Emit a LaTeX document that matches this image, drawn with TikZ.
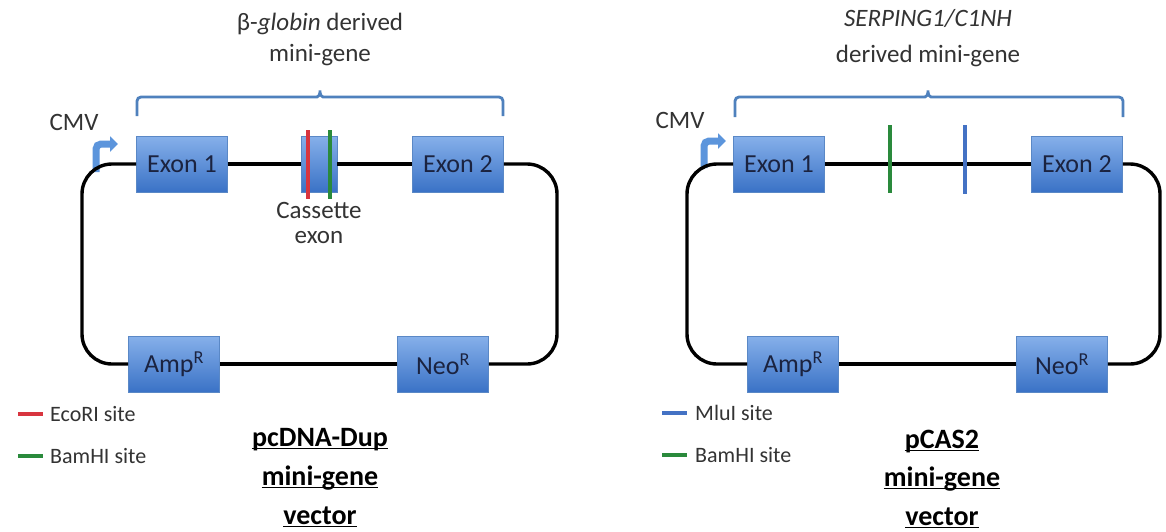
\documentclass[tikz,border=0pt]{standalone}
\usepackage{fontspec}
\setmainfont{Carlito}
\usetikzlibrary{arrows.meta}
\definecolor{boxtop}{HTML}{86B0EA}
\definecolor{boxbot}{HTML}{3A72C6}
\definecolor{boxedge}{HTML}{5A88C6}
\definecolor{boxtxt}{HTML}{1B2340}
\definecolor{brk}{HTML}{4F81BD}
\definecolor{cmvblue}{HTML}{5C95DC}
\definecolor{ecored}{HTML}{D8353F}
\definecolor{bamgreen}{HTML}{2A8A3C}
\definecolor{mlublue}{HTML}{4472C4}
\definecolor{txtgray}{HTML}{333333}
\begin{document}
\begin{tikzpicture}[x=1pt,y=-1pt,
  gene/.style={draw=boxedge, line width=0.9pt, top color=boxtop, bottom color=boxbot, inner sep=0pt, minimum width=91pt, minimum height=56pt, text=boxtxt, font=\fontsize{26}{30}\selectfont},
  backbone/.style={line width=3.4pt, black, rounded corners=30pt},
  bracket/.style={draw=brk, line width=2.8pt, rounded corners=4pt},
  cmvarrow/.style={draw=cmvblue, line width=7pt, rounded corners=5pt, -{Triangle[length=8pt,width=15pt]}},
  site/.style={line width=3.2pt},
  lbl/.style={text=txtgray, inner sep=0pt, font=\fontsize{25}{30}\selectfont},
  legtxt/.style={text=txtgray, inner sep=0pt, anchor=base west, font=\fontsize{22}{26}\selectfont},
  ttl/.style={inner sep=0pt, anchor=base, font=\fontsize{28}{32}\selectfont\bfseries},
  uline/.style={line width=1.6pt},
]
\useasboundingbox[fill=white] (0,0) rectangle (1166,531);

% ---------------- left panel ----------------
\node[gene] (e1) at (182,164) {Exon 1};
\node[gene, minimum width=36pt] (cas) at (319,164) {};
\node[gene] (e2) at (458,164) {Exon 2};
\node[gene] (amp) at (174,364) {Amp\textsuperscript{R}};
\node[gene] (neo) at (443,364) {Neo\textsuperscript{R}};

\coordinate (lcmv0) at (96,172);
\coordinate (lcmv1) at (96,144);
\coordinate (lcmv2) at (118,144);
\draw[cmvarrow] (lcmv0) -- (lcmv1) -- (lcmv2);
\node[lbl] (lcmv) at (74,122) {CMV};

\coordinate (ltl) at (82,164);
\coordinate (ltr) at (557,164);
\draw[backbone] (amp.west) -| (ltl) -- (e1.west);
\draw[backbone] (e1.east) -- (cas.west);
\draw[backbone] (cas.east) -- (e2.west);
\draw[backbone] (e2.east) -- (ltr) |- (neo.east);
\draw[backbone] (neo.west) -- (amp.east);

\coordinate (ecoT) at (308,130); \coordinate (ecoB) at (308,199);
\coordinate (bamT) at (330,130); \coordinate (bamB) at (330,199);
\draw[site, ecored] (ecoT) -- (ecoB);
\draw[site, bamgreen] (bamT) -- (bamB);
\node[lbl, anchor=base] (cast) at (319,218) {Cassette};
\node[lbl, anchor=base] (casx) at (319,243) {exon};

\coordinate (lb1) at (137,116);
\coordinate (lb2) at (503,116);
\draw[bracket] (lb1) -- (137,97) -- (313,97) .. controls (319,97) and (320,94) .. (320,88)
  .. controls (320,94) and (321,97) .. (327,97) -- (503,97) -- (lb2);
\node[lbl, anchor=base] (lh1) at (320,30) {β-\textit{globin} derived};
\node[lbl, anchor=base] (lh2) at (320,61) {mini-gene};

\coordinate (lr1) at (18,414); \coordinate (lr2) at (43,414);
\coordinate (lg1) at (18,456); \coordinate (lg2) at (43,456);
\draw[site, ecored] (lr1) -- (lr2);
\draw[site, bamgreen] (lg1) -- (lg2);
\node[legtxt] (leco) at (50,421) {EcoRI site};
\node[legtxt] (lbam) at (50,463) {BamHI site};

\node[ttl] (lt1) at (320,446) {pcDNA-Dup};
\node[ttl] (lt2) at (320,485) {mini-gene};
\node[ttl] (lt3) at (320,524) {vector};
\foreach \n in {lt1,lt2,lt3}
  \draw[uline] ([yshift=-2.5pt]\n.base west) -- ([yshift=-2.5pt]\n.base east);

% ---------------- right panel ----------------
\node[gene] (r1) at (779,164) {Exon 1};
\node[gene] (r2) at (1077,164) {Exon 2};
\node[gene] (ramp) at (793,364) {Amp\textsuperscript{R}};
\node[gene] (rneo) at (1062,364) {Neo\textsuperscript{R}};

\coordinate (rcmv0) at (704,168);
\coordinate (rcmv1) at (704,141);
\coordinate (rcmv2) at (726,141);
\draw[cmvarrow] (rcmv0) -- (rcmv1) -- (rcmv2);
\node[lbl] (rcmv) at (680,120) {CMV};

\coordinate (rtl) at (687,164);
\coordinate (rtr) at (1160,164);
\draw[backbone] (ramp.west) -| (rtl) -- (r1.west);
\draw[backbone] (r1.east) -- (r2.west);
\draw[backbone] (r2.east) -- (rtr) |- (rneo.east);
\draw[backbone] (rneo.west) -- (ramp.east);

\coordinate (rbamT) at (890,125); \coordinate (rbamB) at (890,193);
\coordinate (rmluT) at (965,125); \coordinate (rmluB) at (965,194);
\draw[site, bamgreen] (rbamT) -- (rbamB);
\draw[site, mlublue] (rmluT) -- (rmluB);

\coordinate (rb1) at (735,117);
\coordinate (rb2) at (1123,117);
\draw[bracket] (rb1) -- (735,97) -- (921,97) .. controls (927,97) and (928,94) .. (928,88)
  .. controls (928,94) and (929,97) .. (935,97) -- (1123,97) -- (rb2);
\node[lbl, anchor=base] (rh1) at (928,26) {\textit{SERPING1/C1NH}};
\node[lbl, anchor=base] (rh2) at (928,62) {derived mini-gene};

\coordinate (rl1) at (662,413); \coordinate (rl2) at (687,413);
\coordinate (rg1) at (662,455); \coordinate (rg2) at (687,455);
\draw[site, mlublue] (rl1) -- (rl2);
\draw[site, bamgreen] (rg1) -- (rg2);
\node[legtxt] (rmlu) at (695,420) {MluI site};
\node[legtxt] (rbam) at (695,462) {BamHI site};

\node[ttl] (rt1) at (942,448) {pCAS2};
\node[ttl] (rt2) at (942,486) {mini-gene};
\node[ttl] (rt3) at (942,525) {vector};
\foreach \n in {rt1,rt2,rt3}
  \draw[uline] ([yshift=-2.5pt]\n.base west) -- ([yshift=-2.5pt]\n.base east);
\end{tikzpicture}
\end{document}
